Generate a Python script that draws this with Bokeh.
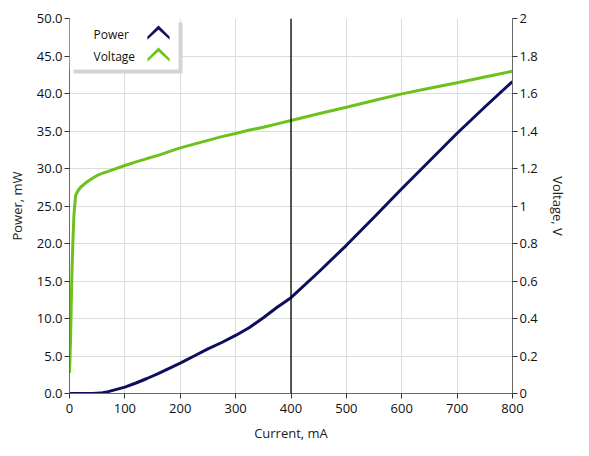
from bokeh.plotting import figure
from bokeh.models import (Range1d, LinearAxis, SingleIntervalTicker, NumeralTickFormatter,
                          Span, BoxAnnotation, Label, PolyAnnotation)
from bokeh.embed import file_html
from bokeh.resources import INLINE

# ---- data ----
current_ma = [0, 2, 4, 6, 8, 11, 15, 20, 30, 40, 50, 60, 70, 80, 100, 120, 140, 160,
              180, 200, 225, 250, 275, 300, 325, 350, 375, 400, 450, 500, 550, 600,
              650, 700, 750, 800]
power_mw = [0, 0, 0, 0, 0, 0, 0, 0, 0, 0, 0.05, 0.1, 0.25, 0.45, 0.85, 1.4, 2.0, 2.65,
            3.35, 4.05, 5.0, 5.96, 6.8, 7.74, 8.8, 10.1, 11.5, 12.78, 16.2, 19.76, 23.5,
            27.3, 31.0, 34.7, 38.2, 41.6]
voltage_v = [0.11, 0.3, 0.6, 0.8, 0.95, 1.056, 1.08, 1.10, 1.125, 1.145, 1.163, 1.175,
             1.185, 1.195, 1.216, 1.235, 1.253, 1.27, 1.29, 1.31, 1.33, 1.35, 1.37,
             1.387, 1.405, 1.42, 1.438, 1.456, 1.492, 1.527, 1.563, 1.598, 1.628, 1.657,
             1.688, 1.719]
cursor_ma = 400
legend_labels = ["Power", "Voltage"]

POWER_COLOR = "#0e0e5c"
VOLT_COLOR = "#6cc21a"
FONT = "Open Sans"
W, H = 581, 447
BL, BR, BT, BB = 69, 69, 18, 54
FH = H - BT - BB

p = figure(width=W, height=H, x_range=Range1d(0, 800), y_range=Range1d(0, 50),
           output_backend="svg", toolbar_location=None,
           min_border_left=BL, min_border_right=BR, min_border_top=BT, min_border_bottom=BB)
p.extra_y_ranges = {"volt": Range1d(0, 2)}
p.outline_line_color = None

p.line(current_ma, power_mw, line_color=POWER_COLOR, line_width=3)
p.line(current_ma, voltage_v, line_color=VOLT_COLOR, line_width=3, y_range_name="volt")

ra = LinearAxis(y_range_name="volt", axis_label="Voltage, V",
                ticker=SingleIntervalTicker(interval=0.2, num_minor_ticks=0),
                formatter=NumeralTickFormatter(format="0.[0]"))
p.add_layout(ra, "right")

xa = p.xaxis[0]
ya = p.yaxis[0]
xa.axis_label = "Current, mA"
ya.axis_label = "Power, mW"
xa.ticker = SingleIntervalTicker(interval=100, num_minor_ticks=0)
ya.ticker = SingleIntervalTicker(interval=5, num_minor_ticks=0)
ya.formatter = NumeralTickFormatter(format="0.0")

for ax in (xa, ya, ra):
    ax.axis_line_color = "#6a6a6a"
    ax.axis_line_width = 1
    ax.major_tick_line_color = "#333333"
    ax.major_tick_out = 5
    ax.major_tick_in = 0
    ax.minor_tick_out = 0
    ax.minor_tick_in = 0
    ax.major_label_text_font = FONT
    ax.major_label_text_font_size = "13px"
    ax.major_label_text_color = "#111111"
    ax.major_label_standoff = 2
    ax.axis_label_text_font = FONT
    ax.axis_label_text_font_size = "13px"
    ax.axis_label_text_font_style = "normal"
    ax.axis_label_text_color = "#222222"
    ax.axis_label_standoff = 8
xa.major_label_standoff = 5

p.xgrid.grid_line_color = "#dcdcdc"
p.ygrid.grid_line_color = "#dcdcdc"

p.add_layout(Span(location=cursor_ma, dimension="height", line_color="black", line_width=1.3))

# ---- legend box (screen units relative to frame, y measured upward) ----
def up(y):
    return FH - y

p.add_layout(BoxAnnotation(left=4, right=113, top=up(4), bottom=up(55),
                           left_units="screen", right_units="screen",
                           top_units="screen", bottom_units="screen",
                           fill_color="#d4d4d4", fill_alpha=1, line_color=None))
p.add_layout(BoxAnnotation(left=0, right=109, top=up(0), bottom=up(51),
                           left_units="screen", right_units="screen",
                           top_units="screen", bottom_units="screen",
                           fill_color="white", fill_alpha=1, line_color=None))
for i, (lab, col) in enumerate(zip(legend_labels, [POWER_COLOR, VOLT_COLOR])):
    yc = 16 + 22 * i
    p.add_layout(Label(x=24, y=up(yc), x_units="screen", y_units="screen", text=lab,
                       text_font=FONT, text_font_size="12px", text_baseline="middle",
                       text_color="#111111"))
    xs = [78, 89, 100, 100, 89, 78]
    ys = [yc + 2, yc - 9, yc + 2, yc + 5, yc - 5, yc + 5]
    p.add_layout(PolyAnnotation(xs=xs, ys=[up(v) for v in ys], xs_units="screen",
                                ys_units="screen", fill_color=col, fill_alpha=1,
                                line_color=col, line_width=0.5))

open("out.html", "w").write(file_html(p, INLINE))
